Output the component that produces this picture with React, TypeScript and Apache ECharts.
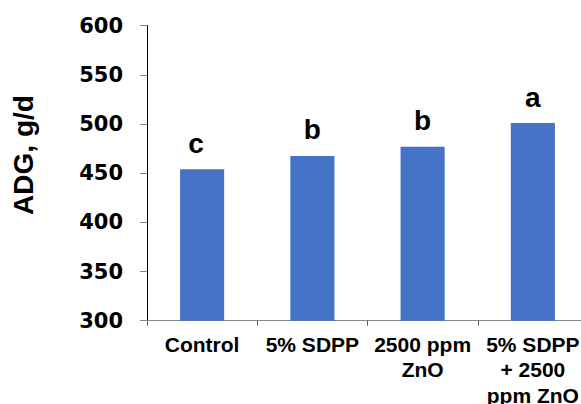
import React, { useEffect, useRef } from "react";
import * as echarts from "echarts";

const categories = ["Control", "5% SDPP", "2500 ppm\nZnO", "5% SDPP\n+ 2500\nppm ZnO"];
const adgValues = [454, 467.5, 477, 501];
const letters = ["c", "b", "b", "a"];
const letterOffsets = [-6, 0, 0, 0];
const yTicks = { min: 300, max: 600, interval: 50 };
const yAxisTitle = "ADG, g/d";

export default function App() {
  const ref = useRef<HTMLDivElement>(null);
  useEffect(() => {
    if (!ref.current) return;
    const chart = echarts.init(ref.current, null, { renderer: "svg" });
    chart.setOption({
      animation: false,
      backgroundColor: "#ffffff",
      grid: {
        left: 147,
        top: 25.7,
        bottom: 83.3,
        right: -7,
        containLabel: false,
        outerBoundsMode: "none",
      },
      xAxis: {
        type: "category",
        data: categories,
        axisLine: { lineStyle: { color: "#868686", width: 1 } },
        axisTick: { show: true, length: 5, lineStyle: { color: "#595959" } },
        axisLabel: {
          interval: 0,
          margin: 11,
          color: "#000",
          fontFamily: "Liberation Sans, Arial",
          fontWeight: "bold",
          fontSize: 21,
          lineHeight: 25.5,
        },
      },
      yAxis: {
        type: "value",
        min: yTicks.min,
        max: yTicks.max,
        interval: yTicks.interval,
        axisLine: { show: true, lineStyle: { color: "#000", width: 1 } },
        axisTick: { show: true, length: 7, lineStyle: { color: "#868686" } },
        splitLine: { show: false },
        axisLabel: {
          margin: 24,
          color: "#000",
          fontFamily: "DejaVu Sans",
          fontWeight: "bold",
          fontSize: 21,
        },
      },
      graphic: [
        {
          type: "text",
          x: 23,
          y: 155,
          rotation: Math.PI / 2,
          style: {
            text: yAxisTitle,
            fill: "#000",
            font: "bold 28px 'Liberation Sans', Arial",
            textAlign: "center",
            textVerticalAlign: "middle",
          },
        },
      ],
      series: [
        {
          type: "bar",
          barWidth: "40%",
          itemStyle: { color: "#4472C4" },
          data: adgValues.map((v, i) => ({
            value: v,
            label: {
              show: true,
              position: "top",
              distance: 12,
              offset: [letterOffsets[i], 0],
              formatter: letters[i],
              color: "#000",
              fontFamily: "Liberation Sans, Arial",
              fontWeight: "bold",
              fontSize: 28,
              lineHeight: 28,
            },
          })),
        },
      ],
    });
    return () => chart.dispose();
  }, []);
  return (
    <div
      ref={ref}
      style={{ position: "fixed", left: 0, top: 0, width: 581, height: 404 }}
    />
  );
}
